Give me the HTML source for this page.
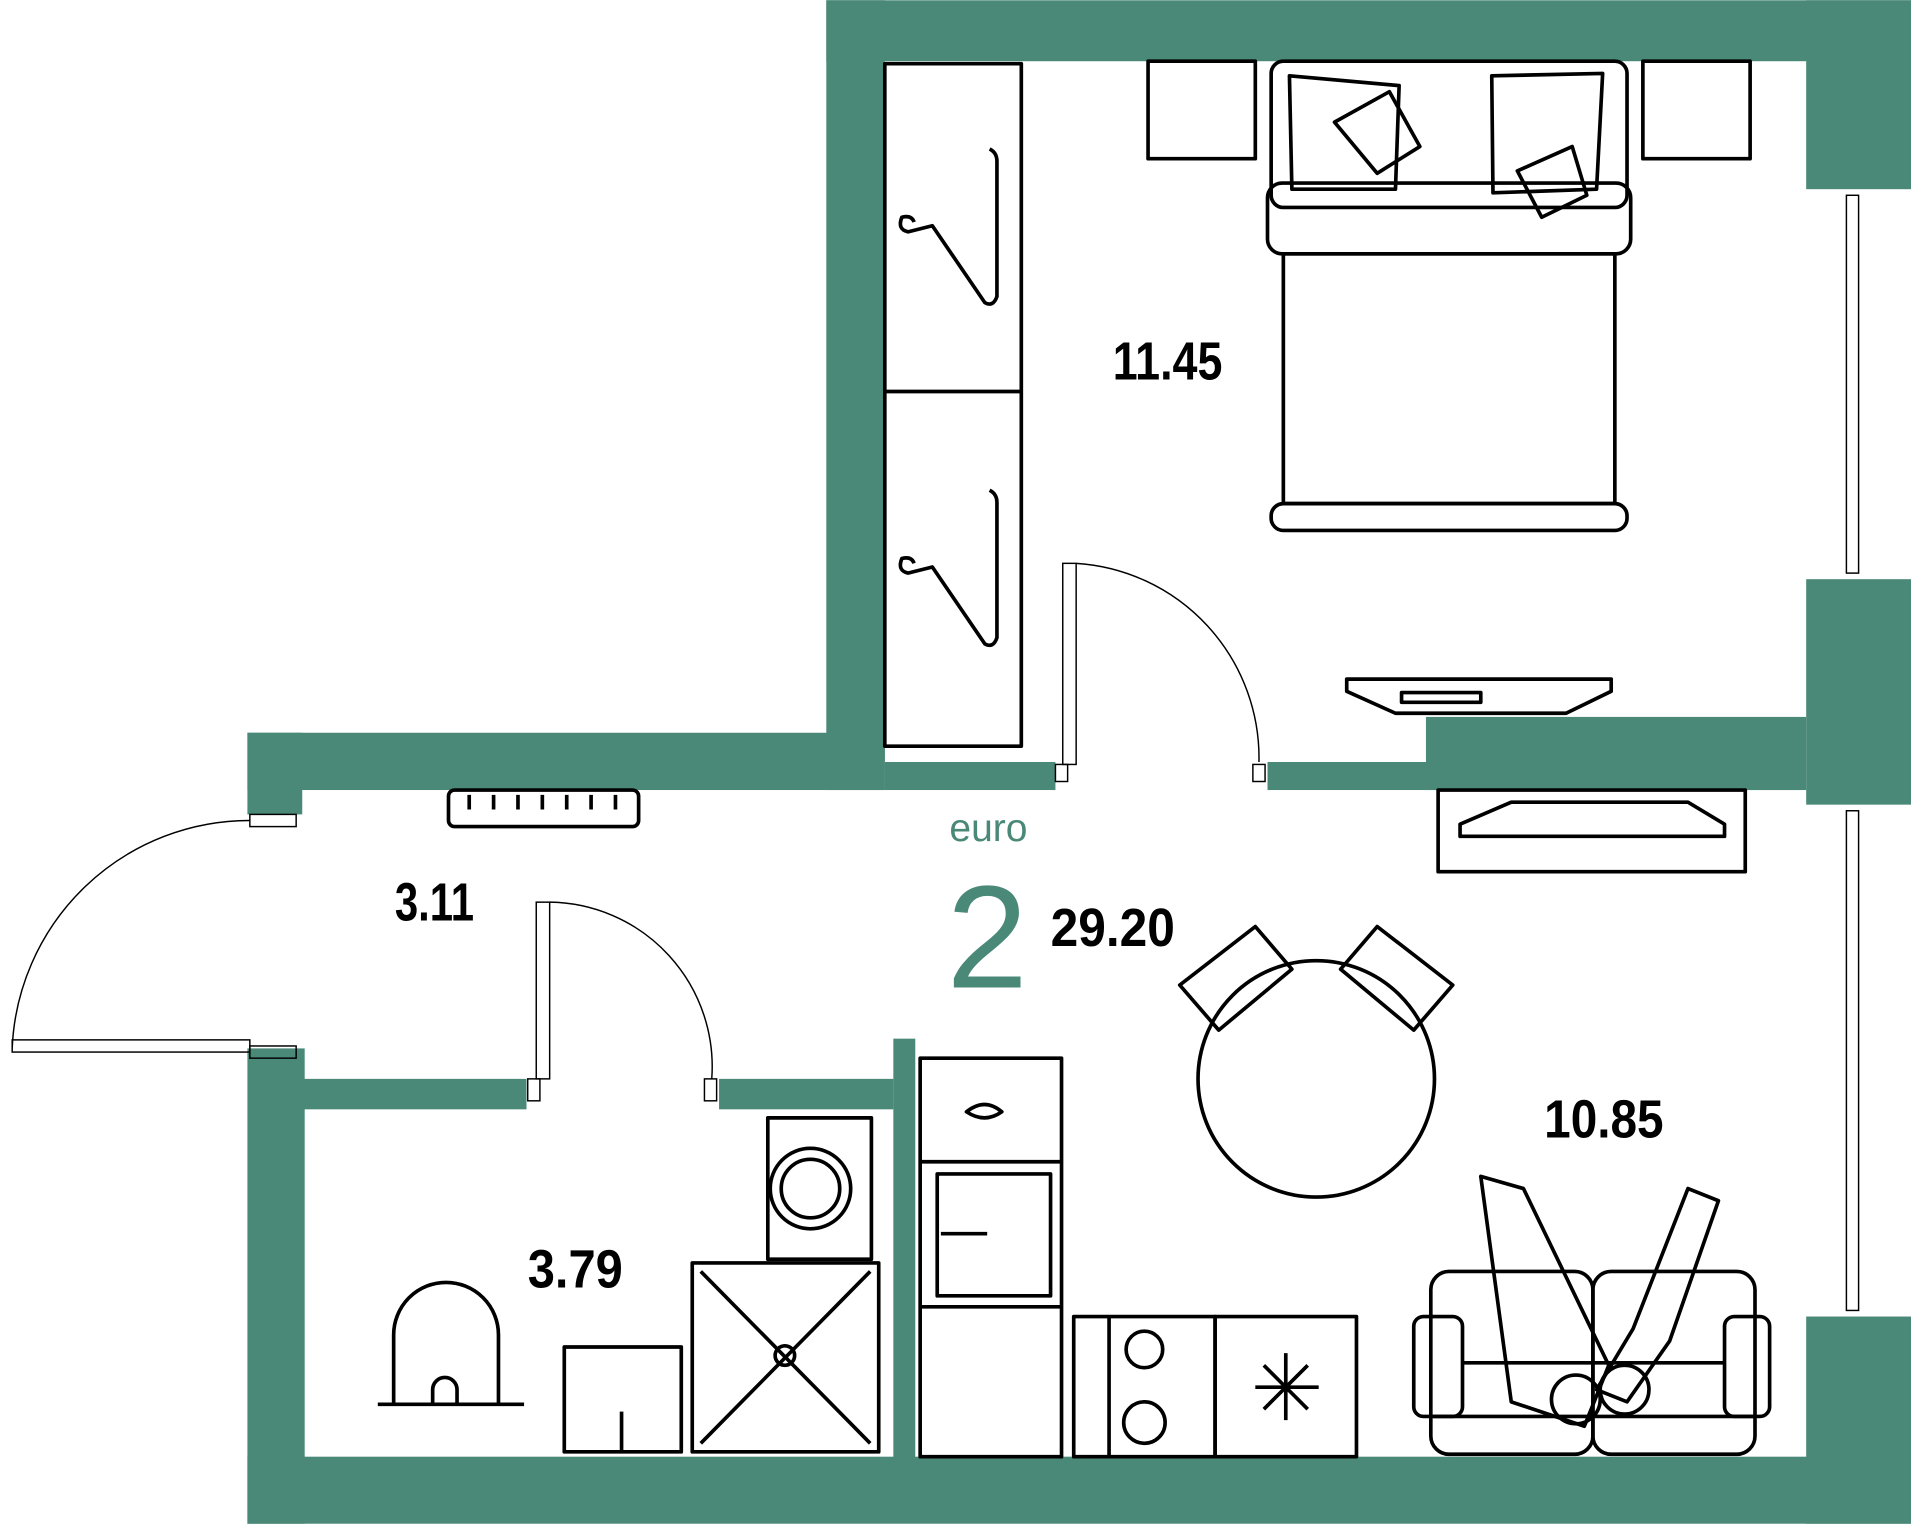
<!DOCTYPE html>
<html><head><meta charset="utf-8"><style>
html,body{margin:0;padding:0;background:#fff;width:1911px;height:1524px;overflow:hidden}
svg{display:block}
text{font-family:"Liberation Sans",sans-serif}
</style></head><body>
<svg width="1911" height="1524" viewBox="0 0 1568 1250" xmlns="http://www.w3.org/2000/svg">
<g fill="#4a8878">
<rect x="678" y="0" width="890" height="50"/>
<rect x="678" y="0" width="48" height="648"/>
<rect x="203" y="601" width="523" height="47"/>
<rect x="203" y="601" width="45" height="67"/>
<rect x="1482" y="0" width="86" height="155"/>
<rect x="1482" y="475" width="86" height="185"/>
<rect x="1482" y="1080" width="86" height="170"/>
<rect x="1170" y="588" width="312" height="60"/>
<rect x="1040" y="625" width="440" height="23"/>
<rect x="726" y="625" width="140" height="23"/>
<rect x="203" y="860" width="47" height="390"/>
<rect x="203" y="1195" width="1365" height="55"/>
<rect x="248" y="885" width="184" height="25"/>
<rect x="590" y="885" width="143" height="25"/>
<rect x="733" y="852" width="18" height="348"/>
</g>
<g fill="none" stroke="#000" stroke-width="3" stroke-linejoin="round">
<rect x="726" y="52" width="112" height="560"/>
<line x1="726" y1="321" x2="838" y2="321"/>
<path d="M812 122 Q818 125 818 132 V243 Q815 252 808 248 L765 185 L745 190 Q736 188 740 178 Q748 176 750 182"/>
<path d="M812 402 Q818 405 818 412 V523 Q815 532 808 528 L765 465 L745 470 Q736 468 740 458 Q748 456 750 462"/>
<rect x="942" y="50" width="88" height="80"/>
<rect x="1348" y="50" width="88" height="80"/>
<rect x="1043" y="50" width="292" height="120" rx="10"/>
<rect x="1040" y="150" width="298" height="58" rx="12"/>
<rect x="1053" y="208" width="272" height="205"/>
<rect x="1043" y="413" width="292" height="22" rx="10"/>
<path d="M1058 62 L1148 70 L1145 155 L1060 155 Z"/>
<path d="M1224 62 L1315 60 L1310 155 L1225 158 Z"/>
<path d="M1095 100 L1140 75 L1165 120 L1130 142 Z"/>
<path d="M1245 140 L1290 120 L1302 160 L1265 178 Z"/>
<path d="M1105 557 L1322 557 L1322 567 L1285 585 L1145 585 L1105 567 Z"/>
<rect x="1150" y="568" width="65" height="8"/>
<rect x="1180" y="648" width="252" height="67"/>
<path d="M1198 676 L1240 658 L1385 658 L1415 676 L1415 686 L1198 686 Z"/>
<rect x="368" y="648" width="156" height="30" rx="5"/>
<path d="M385 652 V664 M405 652 V664 M425 652 V664 M445 652 V664 M465 652 V664 M485 652 V664 M505 652 V664"/>
<circle cx="1080" cy="885" r="97"/>
<path d="M968 808 L1030 760 L1060 795 L1000 845 Z"/>
<path d="M1100 795 L1130 760 L1192 808 L1160 845 Z"/>
<rect x="755" y="868" width="116" height="327"/>
<line x1="755" y1="953" x2="871" y2="953"/>
<line x1="755" y1="1072" x2="871" y2="1072"/>
<rect x="769" y="963" width="93" height="100"/>
<path d="M772 1012 H810"/>
<path d="M793 912 Q808 900 822 912 Q808 922 793 912 Z"/>
<rect x="881" y="1080" width="116" height="115"/>
<line x1="910" y1="1080" x2="910" y2="1195"/>
<circle cx="939" cy="1107" r="15"/><circle cx="939" cy="1167" r="17"/>
<rect x="997" y="1080" width="116" height="115"/>
<path d="M1055 1110 V1165 M1030 1138 H1082 M1037 1120 L1073 1156 M1073 1120 L1037 1156"/>
<rect x="630" y="917" width="85" height="116"/>
<circle cx="665" cy="975" r="33"/><circle cx="665" cy="975" r="24"/>
<rect x="568" y="1036" width="153" height="155"/>
<path d="M575 1043 L714 1184 M714 1043 L575 1184"/>
<circle cx="644" cy="1112" r="8"/>
<rect x="463" y="1105" width="96" height="86"/>
<path d="M510 1158 V1191"/>
<path d="M323 1152 V1095 a43 43 0 0 1 86 0 V1152"/>
<path d="M355 1152 V1140 a10 10 0 0 1 20 0 V1152"/>
<path d="M310 1152 H430"/>
<rect x="1174" y="1043" width="133" height="150" rx="15"/>
<rect x="1307" y="1043" width="133" height="150" rx="15"/>
<rect x="1160" y="1080" width="40" height="82" rx="8"/>
<rect x="1415" y="1080" width="37" height="82" rx="8"/>
<path d="M1200 1118 H1415 M1176 1162 H1440"/>
<path d="M1215 965 L1240 1150 L1300 1170 L1320 1120 L1250 975 Z"/>
<path d="M1385 975 L1340 1090 L1310 1140 L1335 1150 L1370 1100 L1410 985 Z"/>
<circle cx="1293" cy="1148" r="20"/><circle cx="1333" cy="1140" r="20"/>
</g>
<g fill="none" stroke="#000" stroke-width="1.2">
<path d="M205 673 A195 195 0 0 0 10 860"/>
<rect x="10" y="853" width="195" height="10"/>
<rect x="205" y="668" width="38" height="10"/><rect x="205" y="858" width="38" height="10"/>
<rect x="440" y="740" width="11" height="145"/>
<path d="M451 740 A135 135 0 0 1 584 885"/>
<rect x="578" y="885" width="10" height="18"/><rect x="433" y="885" width="10" height="18"/>
<rect x="872" y="462" width="11" height="165"/>
<path d="M883 462 A160 160 0 0 1 1033 625"/>
<rect x="1028" y="627" width="10" height="14"/><rect x="866" y="627" width="10" height="14"/>
<rect x="1515" y="160" width="10" height="310"/><rect x="1515" y="665" width="10" height="410"/>
</g>
<g font-size="44" font-weight="bold" fill="#000">
<text x="913" y="311" textLength="90" lengthAdjust="spacingAndGlyphs">11.45</text>
<text x="324" y="755" textLength="65" lengthAdjust="spacingAndGlyphs">3.11</text>
<text x="862" y="776" textLength="102" lengthAdjust="spacingAndGlyphs">29.20</text>
<text x="1267" y="933" textLength="98" lengthAdjust="spacingAndGlyphs">10.85</text>
<text x="433" y="1056" textLength="78" lengthAdjust="spacingAndGlyphs">3.79</text>
</g>
<text x="811" y="690" font-size="32" fill="#4a8878" text-anchor="middle">euro</text>
<text x="810" y="810" font-size="120" fill="#4a8878" text-anchor="middle">2</text>
</svg>
</body></html>
